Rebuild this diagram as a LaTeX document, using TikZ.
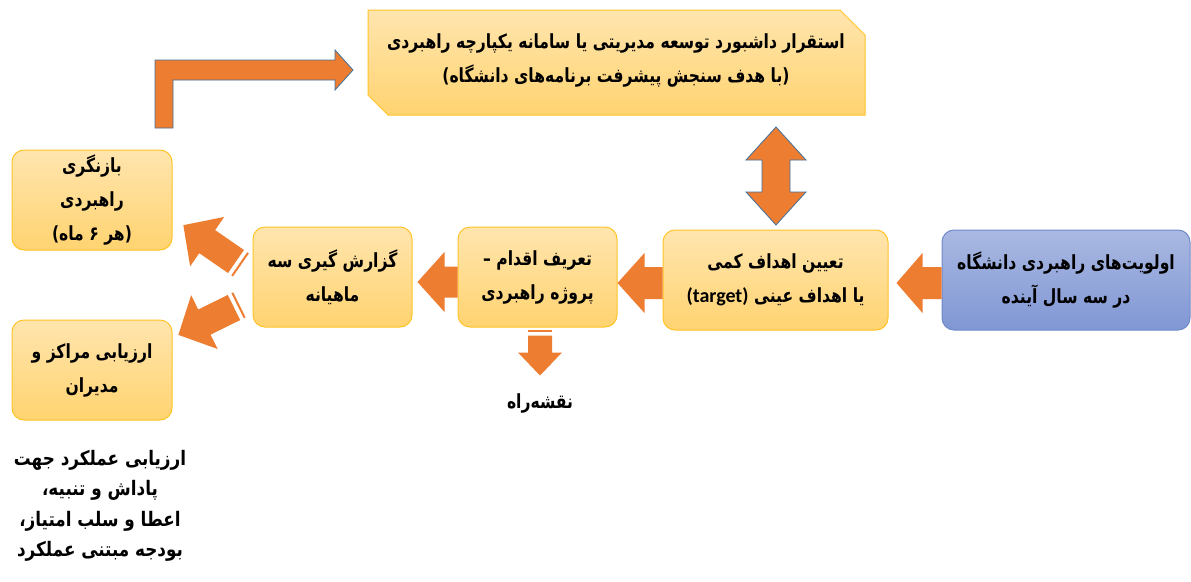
\documentclass[tikz,border=0pt]{standalone}
\usepackage{fontspec}
\usetikzlibrary{calc}
\TeXXeTstate=1
\newfontfamily\fa[Script=Arabic,FakeStretch=0.80]{DejaVu Sans}
\newfontfamily\fb[Script=Arabic,FakeStretch=0.84]{DejaVu Sans}
\newfontfamily\lat{Carlito}
\definecolor{arrorange}{RGB}{237,125,49}
\definecolor{arrline}{RGB}{65,113,156}
\definecolor{boxtop}{RGB}{255,229,174}
\definecolor{boxbot}{RGB}{255,211,112}
\definecolor{boxline}{RGB}{255,196,40}
\definecolor{bluetop}{RGB}{170,185,226}
\definecolor{bluebot}{RGB}{128,151,212}
\definecolor{blueline}{RGB}{110,137,200}
\tikzset{
  pics/barrow/.style n args={4}{code={
    \fill[arrorange] (0,-#2) -- ({#1-#4},-#2) -- ({#1-#4},-#3) -- (#1,0) -- ({#1-#4},#3) -- ({#1-#4},#2) -- (0,#2) -- cycle;}},
  pics/sbarrow/.style n args={4}{code={
    \fill[arrorange] (0,-#2) -- ({#1-#4},-#2) -- ({#1-#4},-#3) -- (#1,0) -- ({#1-#4},#3) -- ({#1-#4},#2) -- (0,#2) -- cycle;
    \fill[arrorange] (-6,-#2) rectangle (-4,#2);}}
}
\begin{document}
\begin{tikzpicture}[x=1pt,y=-1pt,
  txt/.style={font=\fa\bfseries\fontsize{19.5}{34}\selectfont, align=center, inner sep=0pt},
  box/.style={txt, draw=boxline, line width=1pt, rounded corners=12pt, top color=boxtop, bottom color=boxbot},
  bluebox/.style={txt, draw=blueline, line width=1pt, rounded corners=12pt, top color=bluetop, bottom color=bluebot},
  outlinedarrow/.style={fill=arrorange, draw=arrline, line width=0.8pt, line join=miter}]
\useasboundingbox (0,0) rectangle (1191,581);
\fill[white] (0,0) rectangle (1191,581);

% top snipped box
\path[draw=boxline, line width=1pt, top color=boxtop, bottom color=boxbot]
  (368,10) -- (840,10) -- (865,35) -- (865,115) -- (388,115) -- (368,95) -- cycle;
\node[txt] (dash) at (616,60) {\beginR استقرار داشبورد توسعه مدیریتی یا سامانه یکپارچه راهبردی\endR\\
  \beginR(با هدف سنجش پیشرفت برنامه‌های دانشگاه)\endR};

% boxes
\node[box, minimum width=160pt, minimum height=100pt] (review) at (92,200)
  {\beginR بازنگری\endR\\ \beginR راهبردی\endR\\ \beginR(هر ۶ ماه)\endR};
\node[box, minimum width=160pt, minimum height=100pt] (eval) at (92,370)
  {\beginR ارزیابی مراکز و\endR\\ \beginR مدیران\endR};
\node[box, minimum width=159pt, minimum height=100pt] (report) at (332.5,277)
  {\beginR گزارش گیری سه\endR\\ \beginR ماهیانه\endR};
\node[box, minimum width=159pt, minimum height=100pt] (define) at (537.5,277)
  {\beginR تعریف اقدام –\endR\\ \beginR پروژه راهبردی\endR};
\node[box, minimum width=225pt, minimum height=100pt] (target) at (775.5,280)
  {\beginR تعیین اهداف کمی\endR\\ \beginR یا اهداف عینی \beginL{\lat\bfseries\fontsize{20}{34}\selectfont(target)}\endL\endR};
\node[bluebox, minimum width=248pt, minimum height=100pt] (prio) at (1066,280)
  {\beginR اولویت‌های راهبردی دانشگاه\endR\\ \beginR در سه سال آینده\endR};

\node[txt] (roadmap) at (540,403) {\beginR نقشه‌راه\endR};
\node[txt, font=\fb\bfseries\fontsize{20}{30.5}\selectfont] (perf) at (100,506)
  {\beginR ارزیابی عملکرد جهت\endR\\ \beginR پاداش و تنبیه،\endR\\ \beginR اعطا و سلب امتیاز،\endR\\ \beginR بودجه مبتنی عملکرد\endR};

% horizontal block arrows
\pic[rotate=180] at ($(prio.west)+(0,3)$) {barrow={45}{16}{30}{26}};
\pic[rotate=180] at ($(target.west)+(0,3)$) {barrow={45}{16}{30}{27}};
\pic[rotate=180] at ($(define.west)+(0,5)$) {barrow={40}{15.5}{30}{27}};
% down arrow to roadmap
\pic[rotate=-90] at ($(define.south)+(2.5,8)$) {sbarrow={40}{12}{22}{23}};
% diagonal arrows
\pic[rotate=145.4] at (236,261.5) {sbarrow={64}{14}{30}{29}};
\pic[rotate=206.2] at (234,307.5) {sbarrow={62}{14}{30}{29}};

% double arrow between dashboard box and target
\draw[outlinedarrow] (776,127) -- (806,160) -- (790,160) -- (790,192) -- (806,192) -- (776,225)
  -- (746,192) -- (762,192) -- (762,160) -- (746,160) -- cycle;

% bent arrow
\draw[outlinedarrow] (155,128) -- (155,60) -- (335,60) -- (335,50) -- (353,70) -- (335,90)
  -- (335,80) -- (173,80) -- (173,128) -- cycle;
\end{tikzpicture}
\end{document}
